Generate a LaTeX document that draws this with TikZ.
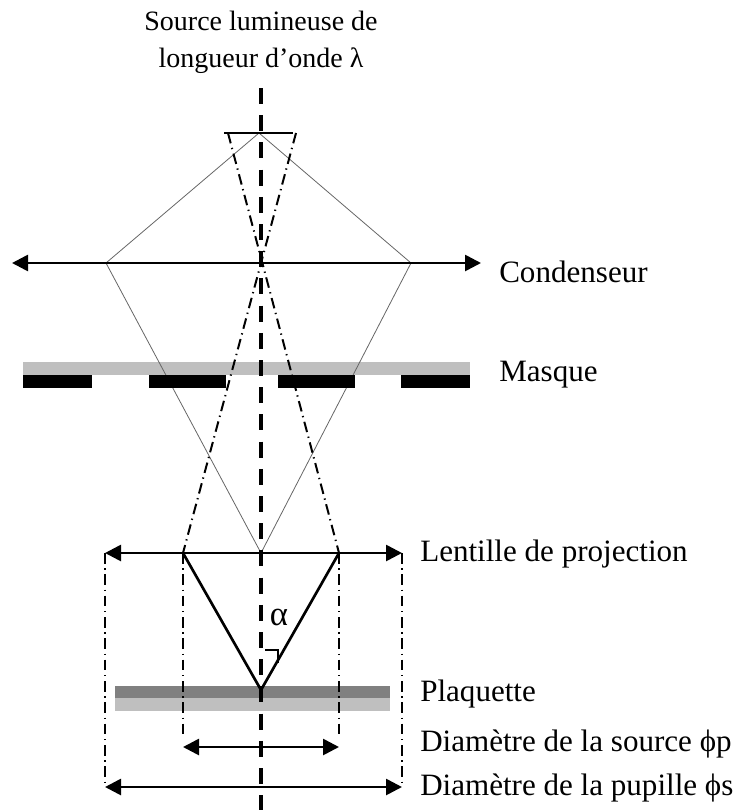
\documentclass[tikz,border=0pt]{standalone}
\usepackage{fontspec}
\setmainfont{Liberation Serif}
\usetikzlibrary{arrows.meta}
\tikzset{
  x=0.75pt,y=-0.75pt,
  axisline/.style={line width=3.4pt,dash pattern=on 12pt off 8.4pt,black},
  thin ray/.style={line width=0.6pt,black!60},
  dd/.style={line width=1.5pt,dash pattern=on 8pt off 3.5pt on 1pt off 3.5pt,black},
  dv/.style={line width=1.3pt,dash pattern=on 8pt off 3.5pt on 1pt off 3.5pt,black},
  dbl/.style={line width=2pt,{Triangle[length=12pt,width=12pt]}-{Triangle[length=12pt,width=12pt]}},
  lab/.style={anchor=base west,inner sep=0pt,font=\fontsize{23.3}{27}\selectfont},
  ttl/.style={anchor=base,inner sep=0pt,font=\fontsize{21}{25}\selectfont},
}
\begin{document}
\begin{tikzpicture}
\useasboundingbox (0,0) rectangle (735,810);
\coordinate (axT) at (261,88); \coordinate (axB) at (261,810);
\coordinate (srcL) at (224,133); \coordinate (srcR) at (293,133); \coordinate (src) at (259,133);
\coordinate (ddL) at (228,133); \coordinate (ddR) at (296,133);
\coordinate (cL) at (12,263); \coordinate (cR) at (481,263);
\coordinate (cA) at (106,263); \coordinate (cB) at (411,263);
\coordinate (lL) at (105,553); \coordinate (lR) at (402,553);
\coordinate (lC) at (261,553); \coordinate (lA) at (183,553); \coordinate (lB) at (339,553);
\coordinate (wf) at (261,690);
\coordinate (sL) at (183,747); \coordinate (sR) at (339,747);
\coordinate (pL) at (105,787); \coordinate (pR) at (402,787);
\coordinate (vsL) at (183,735); \coordinate (vsR) at (339,735);
\coordinate (ra1) at (265,650); \coordinate (ra2) at (278,650); \coordinate (ra3) at (278,663);
\fill[black!25] (23,362) rectangle (470,375);
\draw[thin ray] (src) -- (cA) -- (lC) -- (cB) -- (src);
\fill[black] (23,375) rectangle (92,388);
\fill[black] (149,375) rectangle (226,388);
\fill[black] (278,375) rectangle (355,388);
\fill[black] (401,375) rectangle (470,388);
\fill[black!50] (115,686) rectangle (390,698);
\fill[black!25] (115,698) rectangle (390,711);
\draw[dd] (ddL) -- (lB);
\draw[dd] (ddR) -- (lA);
\draw[dv] (lL) -- (pL);
\draw[dv] (lR) -- (pR);
\draw[dv] (lA) -- (vsL);
\draw[dv] (lB) -- (vsR);
\draw[axisline] (axT) -- (axB);
\draw[line width=1.7pt] (srcL) -- (srcR);
\draw[dbl] (cL) -- (cR);
\draw[dbl] (lL) -- (lR);
\draw[dbl] (sL) -- (sR);
\draw[dbl] (pL) -- (pR);
\draw[line width=2pt,line join=round] (lA) -- (wf) -- (lB);
\draw[line width=1pt] (ra1) -- (ra2) -- (ra3);
\node[ttl] (t1) at (261,30) {Source lumineuse de};
\node[ttl] (t2) at (261,67) {longueur d’onde λ};
\node[lab] (n1) at (499,282) {Condenseur};
\node[lab] (n2) at (499,381) {Masque};
\node[lab] (n3) at (420,561) {Lentille de projection};
\node[lab] (n4) at (420,701) {Plaquette};
\node[lab] (n5) at (420,751) {Diamètre de la source ϕp};
\node[lab] (n6) at (420,795) {Diamètre de la pupille ϕs};
\node[inner sep=0pt,font=\fontsize{26}{28}\selectfont] (al) at (279,617) {α};
\end{tikzpicture}
\end{document}
